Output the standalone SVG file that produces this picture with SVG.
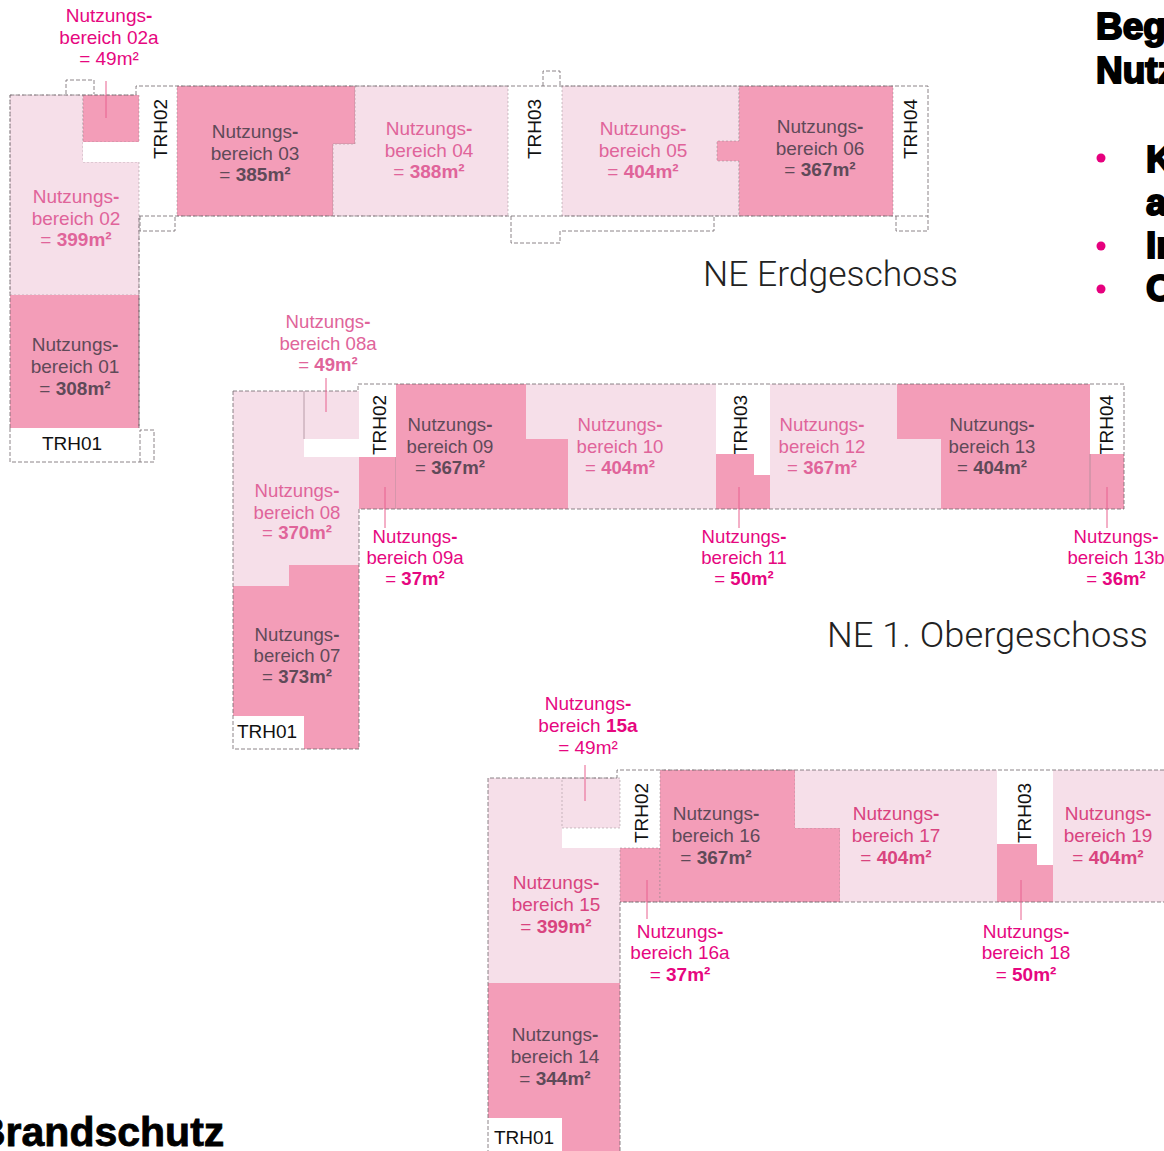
<svg xmlns="http://www.w3.org/2000/svg" width="1164" height="1151" viewBox="0 0 1164 1151">
<style>
text{font-family:"Liberation Sans",Arial,sans-serif}
.l{font-size:18.6px;text-anchor:middle}
#plan-eg .l,#plan-2og .l{font-size:19px}
.pale{fill:#e0649a}
.pale2{fill:#d9447f}
.on{fill:#5f4a58}
.mag{fill:#e6077f}
.b{font-weight:700}
.light{fill:#f6dfe9}
.dark{fill:#f39db8}
.white{fill:#fff}
.trh{font-size:19px;text-anchor:middle;fill:#111}
.ol{fill:none;stroke:#6f6469;stroke-width:.8;stroke-dasharray:4 2}
.in{stroke:#8e7f86;stroke-opacity:.65;stroke-width:.7;stroke-dasharray:2 2}
.faint{stroke:#a98a98;stroke-width:.8;fill:none}
.lead{stroke:#e8608f;stroke-width:1;fill:none}
.cap{font-family:Roboto,"Liberation Sans",sans-serif;font-weight:300;font-size:35px;fill:#222}
.head{font-weight:700;font-size:37px;fill:#000;stroke:#000;stroke-width:2}
.big{font-size:41px;stroke-width:.8}
</style>
<rect width="1164" height="1151" fill="#fff"/>

<g id="plan-eg">
<g id="nb02"><path class="light in" d="M10 95H83V162H139V295H10Z"/><text class="l pale" x="76" y="203">Nutzungs<tspan class="b">-</tspan></text><text class="l pale" x="76" y="225">bereich 02</text><text class="l pale" x="76" y="246">= <tspan class="b">399m²</tspan></text></g>
<g id="nb02a"><rect class="dark in" x="83" y="95" width="56" height="47"/><rect class="white" x="83" y="142" width="56" height="20"/><text class="l mag" x="109" y="22">Nutzungs<tspan class="b">-</tspan></text><text class="l mag" x="109" y="44">bereich 02a</text><text class="l mag" x="109" y="65">= 49m²</text></g>
<g id="nb01"><rect class="dark" x="10" y="295" width="129" height="133"/><text class="l on" x="75" y="351">Nutzungs<tspan class="b">-</tspan></text><text class="l on" x="75" y="373">bereich 01</text><text class="l on" x="75" y="395">= <tspan class="b">308m²</tspan></text></g>
<g id="trh01-eg"><text class="trh" x="72" y="450">TRH01</text></g>
<g id="trh02-eg"><text class="trh" transform="translate(167 129) rotate(-90)">TRH02</text></g>
<g id="nb03"><path class="dark in" d="M177 86H355V144H333V216H177Z"/><text class="l on" x="255" y="138">Nutzungs<tspan class="b">-</tspan></text><text class="l on" x="255" y="160">bereich 03</text><text class="l on" x="255" y="181">= <tspan class="b">385m²</tspan></text></g>
<g id="nb04"><path class="light in" d="M355 86H508V216H333V144H355Z"/><text class="l pale" x="429" y="135">Nutzungs<tspan class="b">-</tspan></text><text class="l pale" x="429" y="157">bereich 04</text><text class="l pale" x="429" y="178">= <tspan class="b">388m²</tspan></text></g>
<g id="trh03-eg"><text class="trh" transform="translate(541 129) rotate(-90)">TRH03</text></g>
<g id="nb05"><rect class="light in" x="562" y="86" width="177" height="130"/><text class="l pale" x="643" y="135">Nutzungs<tspan class="b">-</tspan></text><text class="l pale" x="643" y="157">bereich 05</text><text class="l pale" x="643" y="178">= <tspan class="b">404m²</tspan></text></g>
<g id="nb06"><path class="dark in" d="M739 86H893V216H739V161H717V141H739Z"/><text class="l on" x="820" y="133">Nutzungs<tspan class="b">-</tspan></text><text class="l on" x="820" y="155">bereich 06</text><text class="l on" x="820" y="176">= <tspan class="b">367m²</tspan></text></g>
<g id="trh04-eg"><text class="trh" transform="translate(917 129) rotate(-90)">TRH04</text></g>
<text id="cap-eg" class="cap" x="703" y="286" textLength="255" lengthAdjust="spacingAndGlyphs">NE Erdgeschoss</text>
<g id="outline-eg">
<path class="ol" d="M10 95H136V86H928V216H139V428M139 428V295M10 428V95"/>
<path class="ol" d="M10 428V462H154V430H140V462M66 94V80H94V94M140 216V231H175V216M511 216V243H560V231H714V216M896 216V231H928V216M543 86V71H560V86"/>
</g>
</g>

<g id="plan-1og">
<g id="nb08"><path class="light" d="M233 391H304V457H359V565H289V586H233Z"/><text class="l pale" x="297" y="497">Nutzungs<tspan class="b">-</tspan></text><text class="l pale" x="297" y="519">bereich 08</text><text class="l pale" x="297" y="539">= <tspan class="b">370m²</tspan></text></g>
<g id="nb08a"><rect class="light" x="304" y="391" width="55" height="48"/><rect class="white" x="304" y="439" width="55" height="18"/><path class="faint" d="M304 391V439"/><text class="l pale" x="328" y="328">Nutzungs<tspan class="b">-</tspan></text><text class="l pale" x="328" y="350">bereich 08a</text><text class="l pale" x="328" y="371">= <tspan class="b">49m²</tspan></text></g>
<g id="nb07"><path class="dark" d="M233 586H289V565H359V749H304V716H233Z"/><text class="l on" x="297" y="641">Nutzungs<tspan class="b">-</tspan></text><text class="l on" x="297" y="662">bereich 07</text><text class="l on" x="297" y="683">= <tspan class="b">373m²</tspan></text></g>
<g id="trh01-1og"><text class="trh" x="267" y="738">TRH01</text></g>
<g id="trh02-1og"><text class="trh" transform="translate(386 425) rotate(-90)">TRH02</text></g>
<g id="nb09a"><rect class="dark" x="359" y="457" width="37" height="52"/><path class="faint" d="M396 457V509"/><text class="l mag" x="415" y="543">Nutzungs<tspan class="b">-</tspan></text><text class="l mag" x="415" y="564">bereich 09a</text><text class="l mag" x="415" y="585">= <tspan class="b">37m²</tspan></text></g>
<g id="nb09"><path class="dark" d="M396 384H526V439H568V509H396Z"/><text class="l on" x="450" y="431">Nutzungs<tspan class="b">-</tspan></text><text class="l on" x="450" y="453">bereich 09</text><text class="l on" x="450" y="474">= <tspan class="b">367m²</tspan></text></g>
<g id="nb10"><path class="light" d="M526 384H716V509H568V439H526Z"/><text class="l pale" x="620" y="431">Nutzungs<tspan class="b">-</tspan></text><text class="l pale" x="620" y="453">bereich 10</text><text class="l pale" x="620" y="474">= <tspan class="b">404m²</tspan></text></g>
<g id="trh03-1og"><text class="trh" transform="translate(747 425) rotate(-90)">TRH03</text></g>
<g id="nb11"><path class="dark" d="M716 454H754V475H770V509H716Z"/><text class="l mag" x="744" y="543">Nutzungs<tspan class="b">-</tspan></text><text class="l mag" x="744" y="564">bereich 11</text><text class="l mag" x="744" y="585">= <tspan class="b">50m²</tspan></text></g>
<g id="nb12"><path class="light" d="M770 384H897V439H941V509H770Z"/><text class="l pale" x="822" y="431">Nutzungs<tspan class="b">-</tspan></text><text class="l pale" x="822" y="453">bereich 12</text><text class="l pale" x="822" y="474">= <tspan class="b">367m²</tspan></text></g>
<g id="nb13"><path class="dark" d="M897 384H1090V509H941V439H897Z"/><text class="l on" x="992" y="431">Nutzungs<tspan class="b">-</tspan></text><text class="l on" x="992" y="453">bereich 13</text><text class="l on" x="992" y="474">= <tspan class="b">404m²</tspan></text></g>
<g id="trh04-1og"><text class="trh" transform="translate(1113 425) rotate(-90)">TRH04</text></g>
<g id="nb13b"><rect class="dark" x="1090" y="454" width="34" height="55"/><path class="faint" d="M1090 454V509"/><text class="l mag" x="1116" y="543">Nutzungs<tspan class="b">-</tspan></text><text class="l mag" x="1116" y="564">bereich 13b</text><text class="l mag" x="1116" y="585">= <tspan class="b">36m²</tspan></text></g>
<text id="cap-1og" class="cap" x="827" y="647" textLength="321" lengthAdjust="spacingAndGlyphs">NE 1. Obergeschoss</text>
<g id="outline-1og"><path class="ol" d="M233 391H358V384H1124V509H359V749H233Z"/></g>
</g>

<g id="plan-2og">
<g id="nb15"><path class="light" d="M488 778H562V848H620V983H488Z"/><text class="l pale2" x="556" y="889">Nutzungs<tspan class="b">-</tspan></text><text class="l pale2" x="556" y="911">bereich 15</text><text class="l pale2" x="556" y="933">= <tspan class="b">399m²</tspan></text></g>
<g id="nb15a"><rect class="light in" x="562" y="778" width="58" height="50"/><text class="l mag" x="588" y="710">Nutzungs<tspan class="b">-</tspan></text><text class="l mag" x="588" y="732">bereich <tspan class="b">15a</tspan></text><text class="l mag" x="588" y="754">= 49m²</text></g>
<g id="nb14"><path class="dark" d="M488 983H620V1151H562V1118H488Z"/><text class="l on" x="555" y="1041">Nutzungs<tspan class="b">-</tspan></text><text class="l on" x="555" y="1063">bereich 14</text><text class="l on" x="555" y="1085">= <tspan class="b">344m²</tspan></text></g>
<g id="trh01-2og"><text class="trh" x="524" y="1144">TRH01</text></g>
<g id="trh02-2og"><text class="trh" transform="translate(648 813) rotate(-90)">TRH02</text></g>
<g id="nb16a"><rect class="dark in" x="620" y="848" width="40" height="54"/><text class="l mag" x="680" y="938">Nutzungs<tspan class="b">-</tspan></text><text class="l mag" x="680" y="959">bereich 16a</text><text class="l mag" x="680" y="981">= <tspan class="b">37m²</tspan></text></g>
<g id="nb16"><path class="dark in" d="M660 770H795V828H840V902H660Z"/><text class="l on" x="716" y="820">Nutzungs<tspan class="b">-</tspan></text><text class="l on" x="716" y="842">bereich 16</text><text class="l on" x="716" y="864">= <tspan class="b">367m²</tspan></text></g>
<g id="nb17"><path class="light" d="M795 770H997V902H840V828H795Z"/><text class="l pale2" x="896" y="820">Nutzungs<tspan class="b">-</tspan></text><text class="l pale2" x="896" y="842">bereich 17</text><text class="l pale2" x="896" y="864">= <tspan class="b">404m²</tspan></text></g>
<g id="trh03-2og"><text class="trh" transform="translate(1031 813) rotate(-90)">TRH03</text></g>
<g id="nb18"><path class="dark" d="M997 844H1037V865H1053V902H997Z"/><text class="l mag" x="1026" y="938">Nutzungs<tspan class="b">-</tspan></text><text class="l mag" x="1026" y="959">bereich 18</text><text class="l mag" x="1026" y="981">= <tspan class="b">50m²</tspan></text></g>
<g id="nb19"><rect class="light" x="1053" y="770" width="111" height="132"/><text class="l pale2" x="1108" y="820">Nutzungs<tspan class="b">-</tspan></text><text class="l pale2" x="1108" y="842">bereich 19</text><text class="l pale2" x="1108" y="864">= <tspan class="b">404m²</tspan></text></g>
<g id="outline-2og"><path class="ol" d="M620 1151V902H1164M1164 770H617V778H488V1151"/></g>
</g>

<g id="connectors">
<path class="lead" d="M106 81V118"/>
<path class="lead" d="M326 378V412"/>
<path class="lead" d="M385 487V528"/>
<path class="lead" d="M739 487V528"/>
<path class="lead" d="M1107 487V528"/>
<path class="lead" d="M585 765V801"/>
<path class="lead" d="M647 880V919"/>
<path class="lead" d="M1021 880V920"/>
</g>

<g id="head">
<text class="head" x="1096" y="39">Beg</text>
<text class="head" x="1096" y="83">Nutz</text>
<circle cx="1101" cy="158" r="4.5" fill="#e6007e"/>
<circle cx="1101" cy="246" r="4.5" fill="#e6007e"/>
<circle cx="1101" cy="289" r="4.5" fill="#e6007e"/>
<text class="head" x="1146" y="172">K</text>
<text class="head" x="1146" y="215">a</text>
<text class="head" x="1146" y="258">In</text>
<text class="head" x="1146" y="301">O</text>
<text class="head big" x="-24" y="1146">Brandschutz</text>
</g>
</svg>
